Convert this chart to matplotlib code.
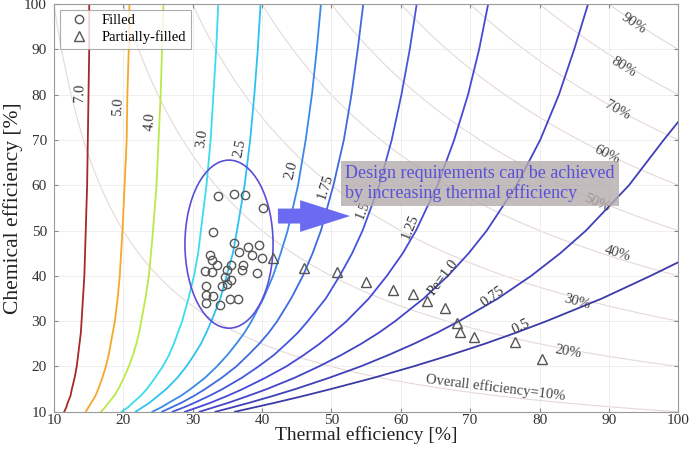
import matplotlib
matplotlib.use("Agg")
import matplotlib.pyplot as plt
import numpy as np
from matplotlib.patches import Ellipse, FancyArrow

plt.rcParams['font.family'] = ['Liberation Serif', 'DejaVu Serif']

# chemical efficiency levels [%] at which each Pe curve was read
chem_grid = [10, 11, 12, 13.5, 15, 17.5, 20, 22.5, 25, 27.5, 30, 35, 40, 45,
             50, 60, 70, 80, 90, 100]

pe_values = [7.0, 5.0, 4.0, 3.0, 2.5, 2.0, 1.75, 1.5, 1.25, 1.0, 0.75, 0.5]
pe_colors = ['#a5282a', '#f5a82a', '#bde84a', '#3adcf0', '#2ec2f2', '#3a88e8',
             '#3f6ae0', '#4456dc', '#4848d8', '#4444c8', '#3f3fb8', '#3a3aa8']
# thermal efficiency [%] of each Pe curve at chem_grid
pe_thermal = [
    [11.5, 11.8, 12.0, 12.4, 12.6, 13.0, 13.3, 13.5, 13.7, 13.9, 14.0, 14.2,
     14.4, 14.5, 14.6, 14.8, 14.9, 15.0, 15.1, 15.1],
    [14.6, 15.0, 15.4, 16.0, 16.4, 17.0, 17.5, 17.9, 18.2, 18.5, 18.8, 19.2,
     19.5, 19.7, 19.9, 20.2, 20.5, 20.6, 20.8, 20.9],
    [16.8, 17.4, 17.9, 18.7, 19.3, 20.1, 20.8, 21.4, 21.9, 22.3, 22.6, 23.2,
     23.7, 24.0, 24.3, 24.8, 25.1, 25.4, 25.6, 25.8],
    [19.8, 20.7, 21.4, 22.5, 23.4, 24.6, 25.7, 26.6, 27.3, 27.9, 28.5, 29.4,
     30.2, 30.8, 31.2, 32.0, 32.6, 33.0, 33.4, 33.7],
    [21.8, 22.8, 23.8, 25.0, 26.2, 27.8, 29.1, 30.2, 31.2, 32.0, 32.7, 34.0,
     34.9, 35.8, 36.4, 37.5, 38.3, 38.9, 39.4, 39.8],
    [24.2, 25.5, 26.6, 28.3, 29.7, 31.8, 33.5, 35.0, 36.3, 37.5, 38.5, 40.2,
     41.6, 42.7, 43.7, 45.2, 46.3, 47.2, 47.9, 48.5],
    [25.6, 27.0, 28.4, 30.2, 31.8, 34.2, 36.3, 38.0, 39.6, 41.0, 42.2, 44.2,
     45.9, 47.3, 48.5, 50.3, 51.8, 52.9, 53.8, 54.6],
    [27.1, 28.8, 30.3, 32.4, 34.3, 37.1, 39.5, 41.7, 43.5, 45.2, 46.6, 49.2,
     51.2, 53.0, 54.5, 56.9, 58.7, 60.1, 61.3, 62.3],
    [28.9, 30.8, 32.6, 35.0, 37.2, 40.5, 43.5, 46.0, 48.3, 50.3, 52.2, 55.4,
     58.0, 60.3, 62.2, 65.3, 67.7, 69.7, 71.3, 72.6],
    [31.0, 33.1, 35.2, 38.0, 40.7, 44.7, 48.2, 51.4, 54.3, 56.9, 59.2, 63.3,
     66.8, 69.8, 72.4, 76.7, 80.1, 82.8, 85.0, 87.0],
    [33.3, 35.8, 38.2, 41.6, 44.8, 49.7, 54.2, 58.2, 61.9, 65.3, 68.4, 74.0,
     78.8, 83.0, 86.7, 92.9, 97.9, 100.0],
    [36.1, 39.0, 41.9, 46.0, 49.9, 56.1, 61.8, 67.1, 72.1, 76.7, 81.0, 89.0,
     96.0, 100.0],
]
# chemical efficiency where the last two curves leave through the right edge
pe_exit_chem = {0.75: 74, 0.5: 43}

pe_labels = ['7.0', '5.0', '4.0', '3.0', '2.5', '2.0', '1.75', '1.5', '1.25',
             'Pe=1.0', '0.75', '0.5']
pe_label_x = [13.8, 19.2, 23.9, 31.3, 36.8, 44.3, 49.2, 54.6, 61.4, 66.1, 73.2, 77.4]
pe_label_y = [80.4, 77.3, 74.0, 70.4, 68.2, 63.4, 59.6, 54.5, 50.8, 39.7, 35.4, 28.8]
pe_label_rot = [88, 87, 85, 82, 78, 75, 72, 68, 68, 53, 36, 27]

overall_levels = [10, 20, 30, 40, 50, 60, 70, 80, 90]
overall_labels = ['Overall efficiency=10%', '20%', '30%', '40%', '50%', '60%',
                  '70%', '80%', '90%']
overall_label_x = [73.6, 84.2, 85.4, 91.3, 88.3, 89.7, 91.2, 92.1, 93.5]
overall_label_y = [15.3, 23.2, 34.3, 45.0, 56.0, 66.7, 76.6, 86.1, 95.6]
overall_label_rot = [-7, -10, -15, -17, -23, -26, -29, -32, -34]

filled_x = [33.7, 35.9, 37.6, 40.2, 33.0, 35.9, 38.0, 39.5, 36.7, 38.5, 32.5,
            32.8, 40.0, 33.5, 35.6, 37.3, 31.8, 32.8, 34.9, 37.1, 39.3, 34.7,
            35.6, 31.9, 34.2, 34.9, 32.0, 33.0, 35.4, 36.6, 32.0, 34.0]
filled_y = [57.6, 58.0, 57.8, 55.0, 49.6, 47.3, 46.3, 46.8, 45.2, 44.6, 44.6,
            43.5, 43.9, 42.5, 42.5, 42.4, 41.1, 40.9, 41.3, 41.4, 40.7, 39.8,
            39.1, 37.7, 37.7, 38.3, 35.8, 35.5, 35.0, 35.0, 33.9, 33.6]

partial_x = [41.6, 46.0, 50.8, 55.0, 58.9, 61.8, 63.8, 66.4, 68.1, 68.6, 70.5,
             76.4, 80.3]
partial_y = [43.9, 41.7, 40.9, 38.6, 36.9, 35.9, 34.4, 33.0, 29.6, 27.7, 26.6,
             25.5, 21.6]

fig = plt.figure(figsize=(6.9, 4.5), dpi=100)
ax = fig.add_axes([0.078, 0.085, 0.905, 0.906])

# faint iso-lines of overall efficiency = thermal x chemical
th = np.linspace(10, 100, 400)
TH, CH = np.meshgrid(th, th)
ax.contour(TH, CH, TH * CH / 100, levels=overall_levels, colors='#e6d8d8',
           linewidths=0.8, zorder=1)
for lab, x, y, r in zip(overall_labels, overall_label_x, overall_label_y, overall_label_rot):
    ax.text(x, y, lab, fontsize=10.5, color='#444444', rotation=r,
            ha='center', va='center', zorder=3)

for pe, xs, c in zip(pe_values, pe_thermal, pe_colors):
    ys = list(chem_grid[:len(xs)])
    if pe in pe_exit_chem:
        ys[-1] = pe_exit_chem[pe]
    ax.plot(xs, ys, color=c, lw=1.3, zorder=2)

for lab, x, y, r in zip(pe_labels, pe_label_x, pe_label_y, pe_label_rot):
    ax.text(x, y, lab, fontsize=10.5, color='#333333', rotation=r,
            ha='center', va='center', zorder=3)

ax.add_patch(Ellipse((35.25, 47.0), 12.7, 37.1, fill=False, ec='#5a4fd6',
                     lw=1.2, zorder=4))
ax.add_patch(FancyArrow(42.3, 53.2, 10.4, 0, width=3.3, head_width=7.0,
                        head_length=7.2, length_includes_head=True,
                        color='#6b6bf2', ec='none', zorder=4))

ax.plot(filled_x, filled_y, 'o', mfc='none', mec='#555555', ms=6, mew=1.0,
        label='Filled', zorder=5)
ax.plot(partial_x, partial_y, '^', mfc='none', mec='#555555', ms=6.5, mew=1.0,
        label='Partially-filled', zorder=5)

ax.text(52.0, 60.4, 'Design requirements can be achieved\nby increasing thermal efficiency',
        color='#5a4fd8', fontsize=13, ha='left', va='center', linespacing=1.1,
        bbox=dict(boxstyle='square,pad=0.25', fc='#b5abab', ec='none', alpha=0.8),
        zorder=6)

ax.set_xlim(10, 100)
ax.set_ylim(10, 100)
ax.set_xticks(range(10, 101, 10))
ax.set_yticks(range(10, 101, 10))
ax.grid(True, color='#ececec', lw=0.6, zorder=0)
ax.tick_params(direction='in', top=True, right=True, length=3, color='#888888',
               labelsize=11, labelcolor='#333333')
ax.tick_params(axis='x', pad=1.8)
ax.tick_params(axis='y', pad=5)
for s in ax.spines.values():
    s.set_color('#999999')

ax.set_xlabel('Thermal efficiency [%]', fontsize=14, color='#222222')
ax.set_ylabel('Chemical efficiency [%]', fontsize=15.5, color='#222222')
ax.xaxis.set_label_coords(0.5, -0.0355)
ax.yaxis.set_label_coords(-0.05, 0.5)

leg = ax.legend(loc='upper left', fontsize=10.5, frameon=True, fancybox=False,
                edgecolor='#999999', borderaxespad=0.4, handletextpad=0.6,
                borderpad=0.3, labelspacing=0.2)
leg.get_frame().set_linewidth(0.8)

fig.savefig('out.png', dpi=100)
